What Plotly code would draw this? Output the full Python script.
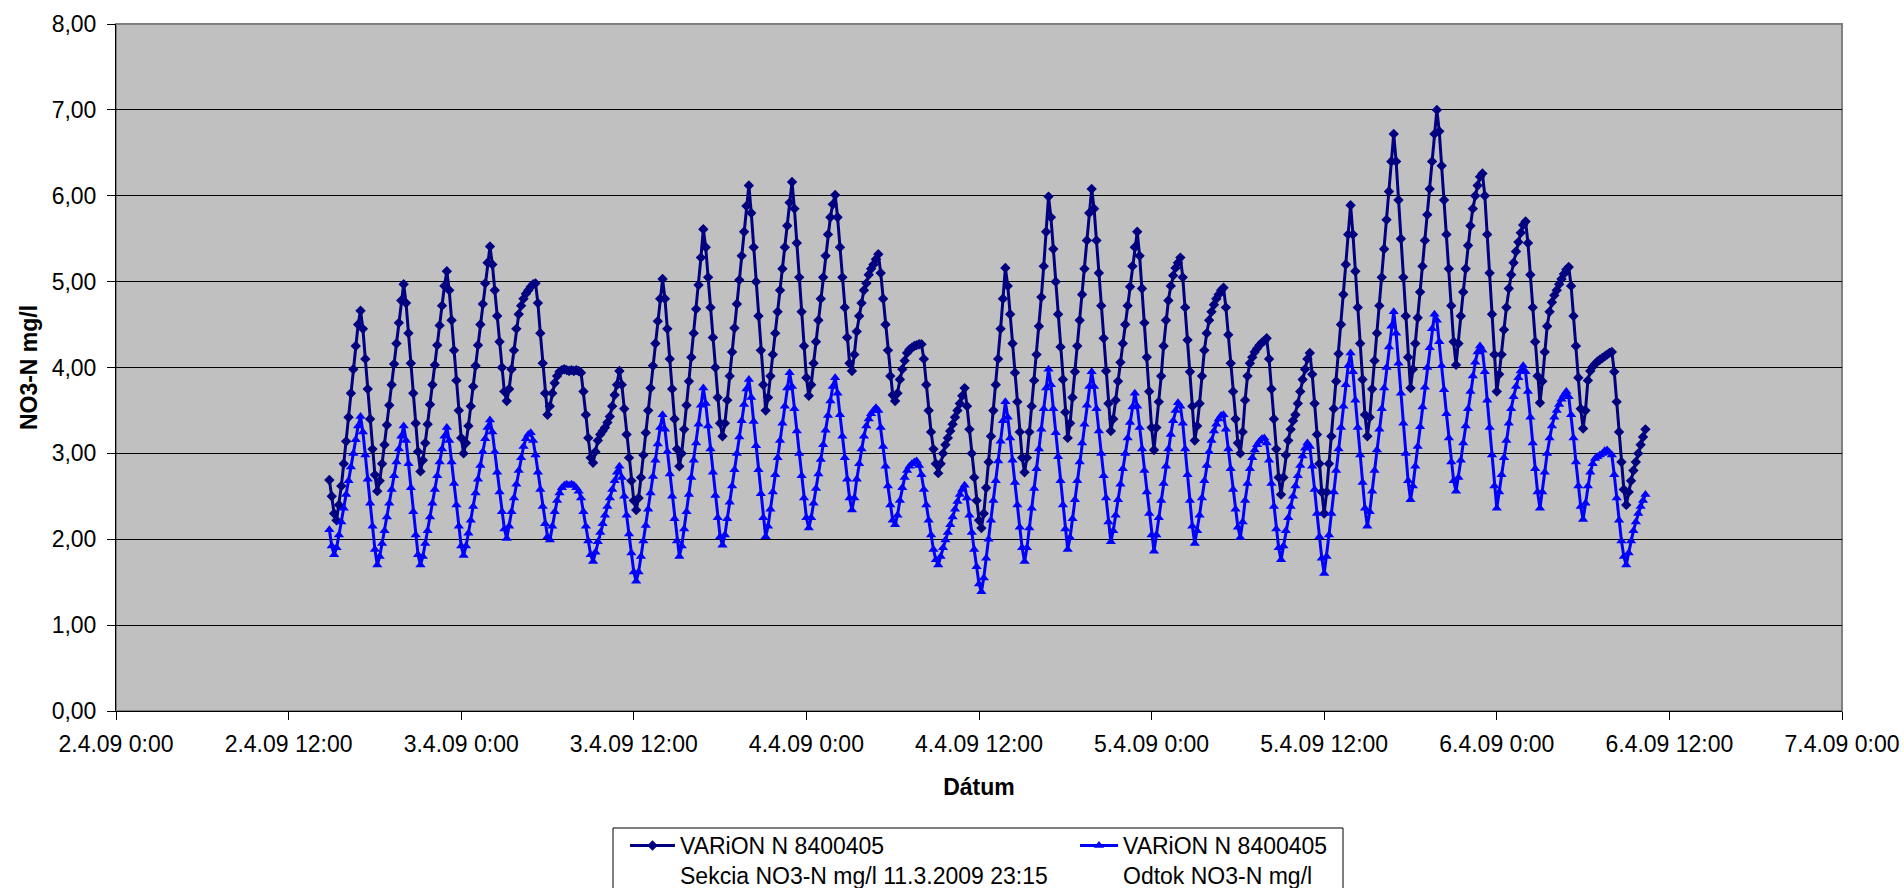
import pandas as pd
import plotly.graph_objects as go

# ---- data (10-minute readings) ----
start_time = "2009-04-02 14:50"
step = "10min"

sekcia = [
    2.69, 2.50, 2.30, 2.22,
    2.40, 2.62, 2.88, 3.14, 3.42, 3.70, 3.98, 4.25, 4.50, 4.66,
    4.45, 4.10, 3.75, 3.40, 3.05, 2.75, 2.56,
    2.68, 2.88, 3.10, 3.33, 3.56, 3.80, 4.04, 4.28, 4.52, 4.78, 4.97,
    4.75, 4.40, 4.05, 3.70, 3.35, 3.02, 2.79,
    2.92, 3.12, 3.34, 3.57, 3.80, 4.03, 4.26, 4.49, 4.72, 4.95, 5.12,
    4.90, 4.55, 4.20, 3.85, 3.50, 3.18, 3.00,
    3.12, 3.32, 3.55, 3.78, 4.02, 4.26, 4.50, 4.74, 4.98, 5.22, 5.41,
    5.20, 4.90, 4.60, 4.30, 4.00, 3.72, 3.61,
    3.75, 3.98, 4.20, 4.45, 4.62, 4.72, 4.80, 4.86, 4.90, 4.94, 4.97, 4.98,
    4.75, 4.40, 4.05, 3.70, 3.45,
    3.55, 3.70, 3.82, 3.90, 3.95, 3.97, 3.98, 3.97, 3.96, 3.97, 3.96, 3.97, 3.96, 3.94,
    3.72, 3.45, 3.18, 2.95, 2.89,
    3.02, 3.15, 3.22, 3.26, 3.30, 3.36, 3.43, 3.55, 3.68, 3.80, 3.96,
    3.80, 3.52, 3.22, 2.95, 2.68, 2.45, 2.34,
    2.48, 2.72, 2.98, 3.24, 3.50, 3.76, 4.02, 4.28, 4.54, 4.80, 5.03,
    4.80, 4.45, 4.10, 3.75, 3.40, 3.05, 2.85,
    3.00, 3.28, 3.56, 3.84, 4.12, 4.40, 4.68, 4.96, 5.28, 5.61,
    5.40, 5.05, 4.70, 4.35, 4.00, 3.65, 3.35, 3.20,
    3.35, 3.62, 3.90, 4.18, 4.46, 4.74, 5.02, 5.30, 5.58, 5.88, 6.12,
    5.80, 5.40, 5.00, 4.60, 4.20, 3.80, 3.50,
    3.65, 3.90, 4.15, 4.40, 4.65, 4.90, 5.15, 5.40, 5.65, 5.92, 6.16,
    5.85, 5.45, 5.05, 4.65, 4.25, 3.88, 3.67,
    3.80, 4.05, 4.30, 4.55, 4.80, 5.05, 5.30, 5.55, 5.75, 5.90, 6.01,
    5.75, 5.40, 5.05, 4.70, 4.35, 4.05, 3.96,
    4.15, 4.42, 4.60, 4.75, 4.90, 4.98, 5.08, 5.15, 5.20, 5.26, 5.32,
    5.10, 4.80, 4.50, 4.20, 3.90, 3.68, 3.61,
    3.70, 3.86, 3.98, 4.08, 4.17, 4.21, 4.23, 4.25, 4.26, 4.27, 4.27,
    4.10, 3.80, 3.50, 3.25, 3.05, 2.88, 2.77,
    2.88, 3.00, 3.10, 3.18, 3.26, 3.34, 3.42, 3.50, 3.58, 3.67, 3.76,
    3.55, 3.28, 3.00, 2.72, 2.45, 2.22, 2.13,
    2.30, 2.60, 2.90, 3.20, 3.50, 3.80, 4.10, 4.45, 4.80, 5.16,
    4.95, 4.62, 4.28, 3.94, 3.60, 3.25, 2.95, 2.78,
    2.95, 3.25, 3.55, 3.85, 4.15, 4.48, 4.82, 5.18, 5.58, 5.99,
    5.75, 5.38, 5.00, 4.62, 4.24, 3.86, 3.48, 3.18,
    3.35, 3.65, 3.95, 4.25, 4.55, 4.85, 5.15, 5.48, 5.80, 6.08,
    5.85, 5.48, 5.10, 4.72, 4.34, 3.96, 3.58, 3.26,
    3.40, 3.62, 3.84, 4.06, 4.28, 4.50, 4.72, 4.94, 5.18, 5.40, 5.58,
    5.30, 4.92, 4.52, 4.12, 3.72, 3.30, 3.04,
    3.30, 3.60, 3.90, 4.25, 4.55, 4.78, 4.95, 5.07, 5.16, 5.22, 5.28,
    5.05, 4.70, 4.32, 3.95, 3.55, 3.15,
    3.32, 3.58, 3.90, 4.20, 4.40, 4.55, 4.65, 4.73, 4.80, 4.85, 4.90, 4.93,
    4.70, 4.38, 4.05, 3.72, 3.40, 3.12, 3.00,
    3.25, 3.62, 3.90, 4.05, 4.12, 4.18, 4.22, 4.26, 4.29, 4.31, 4.34,
    4.10, 3.75, 3.40, 3.05, 2.72, 2.52,
    2.72, 2.98, 3.15, 3.28, 3.38, 3.45, 3.58, 3.72, 3.86, 3.98, 4.10, 4.17,
    3.92, 3.58, 3.22, 2.88, 2.55, 2.30,
    2.55, 2.88, 3.20, 3.52, 3.84, 4.16, 4.50, 4.85, 5.20, 5.55, 5.89,
    5.55, 5.12, 4.70, 4.28, 3.86, 3.45, 3.20,
    3.42, 3.75, 4.08, 4.40, 4.72, 5.05, 5.38, 5.72, 6.05, 6.40, 6.72,
    6.40, 5.95, 5.50, 5.05, 4.60, 4.12, 3.76,
    3.98, 4.28, 4.58, 4.88, 5.18, 5.48, 5.78, 6.08, 6.40, 6.72, 7.00,
    6.75, 6.35, 5.95, 5.55, 5.15, 4.72, 4.30, 4.03,
    4.28, 4.60, 4.88, 5.15, 5.42, 5.65, 5.85, 6.00, 6.12, 6.22, 6.26,
    6.00, 5.55, 5.10, 4.62, 4.15, 3.72,
    3.92, 4.15, 4.44, 4.70, 4.92, 5.08, 5.22, 5.35, 5.46, 5.57, 5.66, 5.70,
    5.45, 5.08, 4.70, 4.30, 3.90, 3.59,
    3.84, 4.18, 4.48, 4.65, 4.76, 4.84, 4.90, 4.97, 5.03, 5.09, 5.14, 5.17,
    4.95, 4.60, 4.25, 3.88, 3.52, 3.29,
    3.50, 3.85, 3.96, 4.01, 4.04, 4.07, 4.09, 4.11, 4.13, 4.15, 4.17, 4.18,
    3.95, 3.60, 3.25, 2.90, 2.58, 2.40,
    2.55, 2.68, 2.80, 2.90, 3.00, 3.10, 3.19, 3.28,
]

odtok = [
    2.11, 1.92, 1.82,
    1.90, 2.05, 2.20, 2.36, 2.52, 2.68, 2.84, 3.00, 3.16, 3.32, 3.43,
    3.25, 2.98, 2.70, 2.42, 2.15, 1.88, 1.70,
    1.80, 1.95, 2.10, 2.26, 2.42, 2.58, 2.74, 2.90, 3.05, 3.20, 3.32,
    3.15, 2.88, 2.60, 2.32, 2.05, 1.82, 1.70,
    1.80, 1.95, 2.10, 2.26, 2.42, 2.58, 2.74, 2.90, 3.05, 3.20, 3.30,
    3.15, 2.90, 2.65, 2.40, 2.15, 1.92, 1.81,
    1.92, 2.07, 2.22, 2.38, 2.54, 2.70, 2.86, 3.02, 3.17, 3.30, 3.39,
    3.25, 3.02, 2.78, 2.55, 2.32, 2.12, 2.01,
    2.15, 2.32, 2.48, 2.64, 2.80, 2.95, 3.08, 3.17, 3.22, 3.24,
    3.15, 2.98, 2.78, 2.58, 2.38, 2.18, 2.03, 1.99,
    2.15, 2.32, 2.45, 2.54, 2.60, 2.63, 2.64, 2.63, 2.64, 2.63, 2.60, 2.56, 2.48,
    2.32, 2.15, 1.98, 1.82, 1.74,
    1.85, 1.97, 2.08, 2.18, 2.28, 2.38, 2.48, 2.58, 2.68, 2.78, 2.85,
    2.72, 2.50, 2.28, 2.06, 1.84, 1.62, 1.51,
    1.62, 1.80, 1.98, 2.16, 2.35, 2.54, 2.73, 2.92, 3.11, 3.30, 3.45,
    3.28, 3.02, 2.76, 2.50, 2.24, 1.98, 1.80,
    1.92, 2.12, 2.32, 2.52, 2.72, 2.92, 3.12, 3.34, 3.56, 3.76,
    3.58, 3.32, 3.05, 2.78, 2.51, 2.25, 2.03, 1.93,
    2.05, 2.24, 2.43, 2.62, 2.81, 3.00, 3.19, 3.38, 3.57, 3.75, 3.86,
    3.65, 3.37, 3.09, 2.81, 2.53, 2.25, 2.03,
    2.15, 2.35, 2.55, 2.75, 2.95, 3.15, 3.35, 3.55, 3.76, 3.94,
    3.78, 3.52, 3.26, 3.00, 2.74, 2.48, 2.25, 2.13,
    2.25, 2.42, 2.59, 2.76, 2.93, 3.10, 3.27, 3.44, 3.61, 3.78, 3.88,
    3.70, 3.45, 3.20, 2.95, 2.70, 2.48, 2.34,
    2.48, 2.70, 2.88, 3.05, 3.20, 3.32, 3.40, 3.46, 3.50, 3.53, 3.50,
    3.30, 3.08, 2.85, 2.62, 2.40, 2.22, 2.17,
    2.28, 2.45, 2.60, 2.72, 2.80, 2.85, 2.88, 2.90, 2.91, 2.86, 2.75,
    2.58, 2.40, 2.22, 2.05, 1.88, 1.76, 1.70,
    1.80, 1.90, 1.99, 2.08, 2.17, 2.26, 2.35, 2.44, 2.52, 2.58, 2.63,
    2.48, 2.28, 2.08, 1.88, 1.68, 1.48, 1.39,
    1.55, 1.78, 2.00, 2.22, 2.45, 2.68, 2.91, 3.14, 3.38, 3.60,
    3.42, 3.18, 2.92, 2.66, 2.40, 2.14, 1.90, 1.74,
    1.90, 2.13, 2.36, 2.59, 2.82, 3.05, 3.28, 3.52, 3.76, 3.98,
    3.80, 3.52, 3.24, 2.96, 2.68, 2.40, 2.12, 1.88,
    2.02, 2.24, 2.46, 2.68, 2.90, 3.12, 3.34, 3.56, 3.78, 3.95,
    3.78, 3.52, 3.26, 3.00, 2.74, 2.48, 2.20, 1.97,
    2.10, 2.28, 2.46, 2.64, 2.82, 3.00, 3.18, 3.36, 3.54, 3.70,
    3.55, 3.30, 3.05, 2.80, 2.55, 2.30, 2.05, 1.86,
    2.05, 2.25, 2.45, 2.65, 2.85, 3.05, 3.22, 3.38, 3.50, 3.59, 3.55,
    3.35, 3.05, 2.75, 2.45, 2.15, 1.95,
    2.10, 2.28, 2.48, 2.68, 2.86, 3.02, 3.15, 3.26, 3.34, 3.40, 3.44, 3.45,
    3.28, 3.05, 2.82, 2.58, 2.35, 2.14, 2.02,
    2.20, 2.45, 2.65, 2.82, 2.95, 3.04, 3.10, 3.14, 3.17, 3.18, 3.12,
    2.92, 2.65, 2.38, 2.12, 1.90, 1.76,
    1.92, 2.10, 2.25, 2.38, 2.50, 2.62, 2.74, 2.86, 2.97, 3.06, 3.12, 3.08,
    2.85, 2.58, 2.30, 2.03, 1.78, 1.60,
    1.80, 2.05, 2.30, 2.55, 2.80, 3.05, 3.30, 3.55, 3.80, 4.02, 4.17,
    3.95, 3.62, 3.30, 2.98, 2.66, 2.36, 2.15,
    2.32, 2.56, 2.80, 3.04, 3.28, 3.52, 3.76, 4.00, 4.24, 4.48, 4.65,
    4.40, 4.05, 3.70, 3.35, 3.00, 2.68, 2.46,
    2.62, 2.85, 3.08, 3.31, 3.54, 3.77, 4.00, 4.23, 4.45, 4.62, 4.55,
    4.30, 4.02, 3.74, 3.46, 3.18, 2.90, 2.68, 2.56,
    2.72, 2.92, 3.12, 3.32, 3.52, 3.72, 3.90, 4.06, 4.18, 4.25, 4.20,
    3.95, 3.62, 3.30, 2.98, 2.62, 2.36,
    2.55, 2.75, 2.95, 3.15, 3.35, 3.52, 3.66, 3.78, 3.88, 3.96, 4.02, 3.95,
    3.72, 3.42, 3.12, 2.82, 2.55, 2.36,
    2.55, 2.78, 3.00, 3.18, 3.32, 3.42, 3.50, 3.57, 3.63, 3.68, 3.72, 3.66,
    3.45, 3.18, 2.90, 2.62, 2.38, 2.23,
    2.42, 2.62, 2.78, 2.88, 2.94, 2.96, 2.98, 3.00, 3.03, 3.04, 3.01, 2.98,
    2.75, 2.48, 2.22, 1.98, 1.80, 1.70,
    1.84, 1.98, 2.10, 2.20, 2.30, 2.38, 2.45, 2.52,
]

series_names = [
    "VARiON N 8400405<br>Sekcia NO3-N mg/l 11.3.2009 23:15",
    "VARiON N 8400405<br>Odtok NO3-N mg/l",
]

x_tick_times = [
    "2009-04-02 00:00", "2009-04-02 12:00", "2009-04-03 00:00", "2009-04-03 12:00",
    "2009-04-04 00:00", "2009-04-04 12:00", "2009-04-05 00:00", "2009-04-05 12:00",
    "2009-04-06 00:00", "2009-04-06 12:00", "2009-04-07 00:00",
]
x_tick_labels = [
    "2.4.09 0:00", "2.4.09 12:00", "3.4.09 0:00", "3.4.09 12:00",
    "4.4.09 0:00", "4.4.09 12:00", "5.4.09 0:00", "5.4.09 12:00",
    "6.4.09 0:00", "6.4.09 12:00", "7.4.09 0:00",
]
y_tick_values = [0, 1, 2, 3, 4, 5, 6, 7, 8]
y_tick_labels = ["0,00", "1,00", "2,00", "3,00", "4,00", "5,00", "6,00", "7,00", "8,00"]

times_sekcia = pd.date_range(start_time, periods=len(sekcia), freq=step)
times_odtok = pd.date_range(start_time, periods=len(odtok), freq=step)

FONT = "Liberation Sans, Arial, sans-serif"
W, H = 1904, 888

fig = go.Figure()
fig.add_trace(go.Scatter(
    x=times_sekcia, y=sekcia, name=series_names[0], mode="lines+markers",
    line=dict(color="#000080", width=3),
    marker=dict(symbol="diamond", size=8, color="#000080"),
    legend="legend",
))
fig.add_trace(go.Scatter(
    x=times_odtok, y=odtok, name=series_names[1], mode="lines+markers",
    line=dict(color="#0000FF", width=3),
    marker=dict(symbol="triangle-up", size=9, color="#0000FF"),
    legend="legend2",
))

legend_common = dict(
    orientation="h", xref="container", yref="container",
    xanchor="left", yanchor="top",
    bgcolor="rgba(0,0,0,0)", borderwidth=0,
    font=dict(family=FONT, size=23, color="#000000"),
    valign="top",
)

fig.update_layout(
    width=W, height=H, autosize=False,
    margin=dict(l=116, r=62, t=24, b=177, autoexpand=False),
    paper_bgcolor="#FFFFFF", plot_bgcolor="#C0C0C0",
    font=dict(family=FONT, size=23, color="#000000"),
    showlegend=True,
    legend=dict(legend_common, x=625 / W, y=1 - 824 / H, itemwidth=45),
    legend2=dict(legend_common, x=1075 / W, y=1 - 824 / H, itemwidth=38),
    xaxis=dict(
        type="date", automargin=False,
        range=["2009-04-02 00:00", "2009-04-07 00:00"],
        tickmode="array", tickvals=x_tick_times, ticktext=x_tick_labels,
        ticks="outside", ticklen=8, tickcolor="#000000", ticklabelstandoff=4,
        showgrid=False, zeroline=False,
        showline=True, linecolor="#000000", linewidth=1,
        tickfont=dict(family=FONT, size=23, color="#000000"),
        title=dict(text="<b>Dátum</b>", font=dict(family=FONT, size=23), standoff=23),
    ),
    yaxis=dict(
        range=[0, 8], automargin=False,
        tickmode="array", tickvals=y_tick_values, ticktext=y_tick_labels,
        ticks="outside", ticklen=8, tickcolor="#000000", ticklabelstandoff=6,
        showgrid=True, gridcolor="#000000", gridwidth=1,
        zeroline=False,
        showline=True, linecolor="#000000", linewidth=1,
        tickfont=dict(family=FONT, size=23, color="#000000"),
        title=dict(text="<b>NO3-N mg/l</b>", font=dict(family=FONT, size=23), standoff=7),
    ),
    shapes=[
        dict(type="rect", xref="paper", yref="paper", x0=0, y0=0, x1=1, y1=1,
             line=dict(color="#808080", width=2), layer="below"),
        # legend frame (bottom edge runs off the page, as in the original)
        dict(type="rect", xref="paper", yref="paper",
             x0=(613 - 116) / 1726, x1=(1343 - 116) / 1726,
             y0=(711 - 828) / 687, y1=(711 - 910) / 687,
             line=dict(color="#000000", width=1), fillcolor="#FFFFFF", layer="below"),
    ],
)

fig.write_html(
    "out.html",
    config={"displayModeBar": False},
    post_script="document.body.style.margin='0';document.body.style.overflow='hidden';",
)
